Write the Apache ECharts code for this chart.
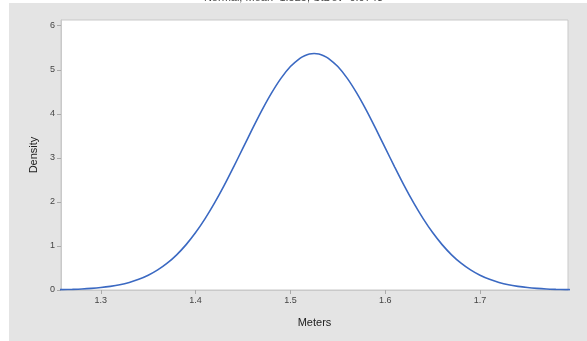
<!DOCTYPE html>
<html>
<head>
<meta charset="utf-8">
<script src="https://cdn.jsdelivr.net/npm/echarts@6/dist/echarts.min.js"></script>
<style>
  html, body { margin: 0; padding: 0; background: #fff; }
  #chartmain { width: 587px; height: 341px; }
</style>
</head>
<body>
<div id="chartmain"></div>
<script>
// 曲线上的点 (米, 密度)
var meters = [1.25, 1.26, 1.27, 1.28, 1.29, 1.30, 1.31, 1.32, 1.33, 1.34, 1.35, 1.36, 1.37, 1.38,
  1.39, 1.40, 1.41, 1.42, 1.43, 1.44, 1.45, 1.46, 1.47, 1.48, 1.49, 1.50, 1.51, 1.515, 1.52, 1.525,
  1.53, 1.535, 1.54, 1.55, 1.56, 1.57, 1.58, 1.59, 1.60, 1.61, 1.62, 1.63, 1.64, 1.65, 1.66,
  1.67, 1.68, 1.69, 1.70, 1.71, 1.72, 1.73, 1.74, 1.75, 1.76, 1.77, 1.78, 1.79, 1.80];
var density = [0.006, 0.009, 0.015, 0.023, 0.036, 0.055, 0.082, 0.119, 0.172, 0.242, 0.335, 0.456, 0.609, 0.799,
  1.030, 1.304, 1.621, 1.977, 2.369, 2.791, 3.226, 3.662, 4.083, 4.469, 4.805, 5.074, 5.261, 5.320, 5.357, 5.369,
  5.357, 5.320, 5.261, 5.074, 4.805, 4.469, 4.083, 3.662, 3.226, 2.791, 2.369, 1.977, 1.621, 1.304, 1.030,
  0.799, 0.609, 0.456, 0.335, 0.242, 0.172, 0.119, 0.082, 0.055, 0.036, 0.023, 0.015, 0.009, 0.006];
var xTicks = [1.3, 1.4, 1.5, 1.6, 1.7];
var yTicks = [0, 1, 2, 3, 4, 5, 6];
var title = "Normal, Mean=1.525, StDev=0.0743";

var points = [];
for (var i = 0; i < meters.length; i++) {
  points.push([meters[i], density[i]]);
}

var option = {
  backgroundColor: '#ffffff',
  animation: false,
  graphic: [
    { type: 'rect', left: 9, top: 3, z: -10, shape: { width: 578, height: 338 }, style: { fill: '#e4e4e4' } },
    { type: 'text', left: 'center', top: -8, z: 10,
      style: { text: title, fontSize: 11, fontFamily: 'Liberation Sans', fill: '#444' } }
  ],
  grid: {
    left: 61, top: 20, right: 19, bottom: 51,
    show: true, backgroundColor: '#ffffff', borderColor: '#c9c9c9', borderWidth: 1
  },
  xAxis: {
    type: 'value', min: 1.258, max: 1.7928,
    name: 'Meters', nameLocation: 'middle', nameGap: 27,
    nameTextStyle: { fontSize: 11, color: '#222', fontFamily: 'Liberation Sans' },
    axisLine: { show: true, lineStyle: { color: '#c9c9c9' } },
    axisTick: { show: true, customValues: xTicks, length: 4, lineStyle: { color: '#aaa' } },
    axisLabel: { customValues: xTicks, fontSize: 9, color: '#444', margin: 6,
      fontFamily: 'Liberation Sans', formatter: function (v) { return v.toFixed(1); } },
    splitLine: { show: false }
  },
  yAxis: {
    type: 'value', min: 0, max: 6.13,
    name: 'Density', nameLocation: 'middle', nameGap: 22, nameRotate: 90,
    nameTextStyle: { fontSize: 11, color: '#222', fontFamily: 'Liberation Sans' },
    axisLine: { show: true, lineStyle: { color: '#c9c9c9' } },
    axisTick: { show: true, customValues: yTicks, length: 4, lineStyle: { color: '#aaa' } },
    axisLabel: { customValues: yTicks, fontSize: 9, color: '#444', margin: 6, fontFamily: 'Liberation Sans' },
    splitLine: { show: false }
  },
  series: [{
    type: 'line',
    data: points,
    smooth: 0.3,
    showSymbol: false,
    clip: true,
    lineStyle: { color: '#3b69c2', width: 1.6 }
  }]
};

var myChart = echarts.init(document.getElementById('chartmain'));
myChart.setOption(option);
</script>
</body>
</html>
